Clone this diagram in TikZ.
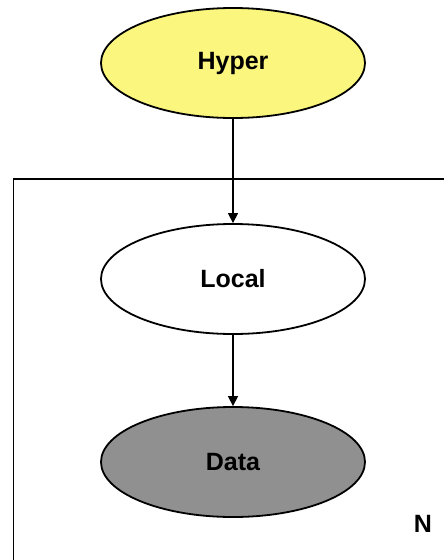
\documentclass[tikz,border=0pt]{standalone}
\usepackage{fontspec}
\setmainfont{Liberation Sans}
\usetikzlibrary{shapes.geometric,arrows.meta}
\definecolor{hyperyellow}{HTML}{FBF67E}
\definecolor{datagray}{HTML}{909090}
\begin{document}
\begin{tikzpicture}[x=1pt,y=1pt,
  var/.style={ellipse,draw=black,line width=1.8pt,minimum width=264pt,minimum height=110pt,inner sep=0pt,font=\fontsize{25}{28}\selectfont\bfseries},
  conn/.style={line width=1.4pt,-{Triangle[length=10pt,width=10pt]}},
  plate/.style={draw=black,line width=1.8pt}]
\useasboundingbox (0,0) rectangle (444,-560);
\clip (0,0) rectangle (444,-560);
\node[var,fill=hyperyellow] (hyper) at (233,-63) {Hyper};
\node[var,fill=white] (local) at (233,-279) {Local};
\node[var,fill=datagray] (data) at (233,-462) {Data};
\draw[plate] (460,-179) -- (13.5,-179) -- (13.5,-580);
\node[font=\fontsize{25}{28}\selectfont\bfseries] (n) at (423,-524) {N};
\draw[conn] (hyper) -- (local);
\draw[conn] (local) -- (data);
\end{tikzpicture}
\end{document}
